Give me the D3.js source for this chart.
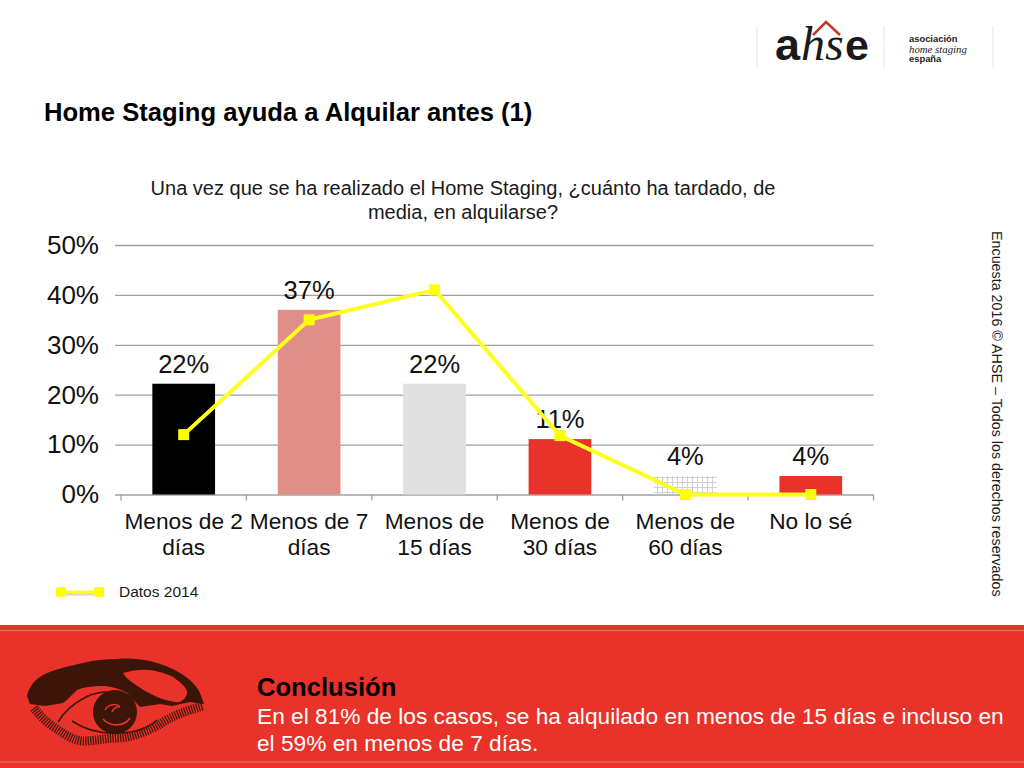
<!DOCTYPE html>
<html>
<head>
<meta charset="utf-8">
<script src="https://cdn.jsdelivr.net/npm/d3@7"></script>
<style>
  html, body { margin: 0; padding: 0; background: #fff; }
  svg { display: block; }
  text { font-family: "Liberation Sans", Arial, sans-serif; }
</style>
</head>
<body>
<svg id="chart" width="1024" height="768"></svg>
<script>
// chart data
const categories = ['Menos de 2|días', 'Menos de 7|días', 'Menos de|15 días', 'Menos de|30 días', 'Menos de|60 días', 'No lo sé'];
const values2016 = [22.2, 37, 22.2, 11.1, 3.7, 3.7];
const values2014 = [12, 35, 41, 11.8, 0, 0];
const barColors = ['#000000', '#e08f88', '#e0e0e0', '#e8322a', 'url(#grid)', '#e8322a'];
const yTicks = [0, 10, 20, 30, 40, 50];

const svg = d3.select('#chart');

// pattern for the 60 dias bar
const pat = svg.append('defs').append('pattern')
  .attr('id', 'grid').attr('width', 5).attr('height', 5)
  .attr('patternUnits', 'userSpaceOnUse');
pat.append('path').attr('d', 'M0 2.5H5M2.5 0V5')
  .attr('stroke', '#cfcfd6').attr('stroke-width', 1).attr('fill', 'none');

////////// titles //////////
svg.append('text').attr('x', 44).attr('y', 121)
  .attr('font-size', 25.6).attr('font-weight', 'bold').attr('fill', '#000')
  .text('Home Staging ayuda a Alquilar antes (1)');

svg.append('text').attr('x', 463).attr('y', 195)
  .attr('text-anchor', 'middle').attr('font-size', 20).attr('fill', '#1a1a1a')
  .text('Una vez que se ha realizado el Home Staging, ¿cuánto ha tardado, de');
svg.append('text').attr('x', 463).attr('y', 219)
  .attr('text-anchor', 'middle').attr('font-size', 20).attr('fill', '#1a1a1a')
  .text('media, en alquilarse?');

////////// scales //////////
const xScale = d3.scaleBand().domain(categories).range([121, 873.5]).paddingInner(0.5).paddingOuter(0.25);
const yScale = d3.scaleLinear().domain([0, 50]).range([494.5, 245]);

// y axis with gridlines
const yAxis = d3.axisLeft(yScale).tickValues(yTicks).tickFormat(d => d + '%')
  .tickSize(-(873.5 - 115)).tickPadding(16);
const yGroup = svg.append('g').attr('transform', 'translate(115,0)').call(yAxis);
yGroup.select('.domain').remove();
yGroup.selectAll('line').attr('stroke', '#a0a0a0').attr('stroke-width', 1.3);
yGroup.selectAll('text').attr('font-size', 26).attr('fill', '#111');

// bars
svg.selectAll('rect.bar').data(categories).enter().append('rect')
  .attr('class', 'bar')
  .attr('x', d => xScale(d))
  .attr('width', xScale.bandwidth())
  .attr('y', (d, i) => yScale(values2016[i]))
  .attr('height', (d, i) => yScale(0) - yScale(values2016[i]))
  .attr('fill', (d, i) => barColors[i]);

// x axis
const step = xScale.step();
const xTicks = d3.range(categories.length + 1).map(i => 121 + i * step);
svg.selectAll('line.xtick').data(xTicks).enter().append('line')
  .attr('class', 'xtick')
  .attr('x1', d => d).attr('x2', d => d)
  .attr('y1', yScale(0)).attr('y2', yScale(0) + 6)
  .attr('stroke', '#a0a0a0').attr('stroke-width', 1.3);

const xLabels = svg.selectAll('text.xlabel').data(categories).enter().append('text')
  .attr('class', 'xlabel')
  .attr('text-anchor', 'middle').attr('font-size', 22.7).attr('fill', '#111');
xLabels.each(function(d) {
  const cx = xScale(d) + xScale.bandwidth() / 2;
  d3.select(this).selectAll('tspan').data(d.split('|')).enter().append('tspan')
    .attr('x', cx).attr('y', (t, j) => 529 + j * 26).text(t => t);
});

// bar value labels
svg.selectAll('text.val').data(categories).enter().append('text')
  .attr('class', 'val')
  .attr('x', d => xScale(d) + xScale.bandwidth() / 2)
  .attr('y', (d, i) => yScale(values2016[i]) - 11)
  .attr('text-anchor', 'middle').attr('font-size', 25.5).attr('fill', '#111')
  .text((d, i) => d3.format('.0f')(values2016[i]) + '%');

// 2014 line
const line = d3.line()
  .x((d, i) => xScale(categories[i]) + xScale.bandwidth() / 2)
  .y(d => yScale(d));
svg.append('path').datum(values2014)
  .attr('d', line).attr('fill', 'none').attr('stroke', '#ffff1f').attr('stroke-width', 4);
svg.selectAll('rect.pt').data(values2014).enter().append('rect')
  .attr('class', 'pt')
  .attr('x', (d, i) => xScale(categories[i]) + xScale.bandwidth() / 2 - 5.5)
  .attr('y', d => yScale(d) - 5.5)
  .attr('width', 11).attr('height', 11).attr('fill', '#ffff00');

////////// legend //////////
const legend = svg.append('g');
legend.append('line').attr('x1', 61).attr('x2', 100).attr('y1', 594).attr('y2', 594)
  .attr('stroke', '#d8d8c0').attr('stroke-width', 3);
legend.append('line').attr('x1', 61).attr('x2', 100).attr('y1', 592).attr('y2', 592)
  .attr('stroke', '#ffff1f').attr('stroke-width', 3);
[61, 99].forEach(x => {
  legend.append('rect').attr('x', x - 5).attr('y', 587).attr('width', 10).attr('height', 10)
    .attr('rx', 2).attr('fill', '#ffff00');
});
legend.append('text').attr('x', 119).attr('y', 597).attr('font-size', 15.5).attr('fill', '#1a1a1a').text('Datos 2014');

// side note
svg.append('text').attr('transform', 'translate(992,231) rotate(90)')
  .attr('font-size', 14.3).attr('fill', '#1a1a1a')
  .text('Encuesta 2016 © AHSE – Todos los derechos reservados');

////////// red footer //////////
svg.append('rect').attr('x', 0).attr('y', 625).attr('width', 1024).attr('height', 143).attr('fill', '#e8322a');
svg.append('line').attr('x1', 0).attr('x2', 1024).attr('y1', 630.5).attr('y2', 630.5).attr('stroke', '#f0706a').attr('stroke-width', 1.2);
svg.append('line').attr('x1', 0).attr('x2', 1024).attr('y1', 762).attr('y2', 762).attr('stroke', '#f0706a').attr('stroke-width', 1.2);

svg.append('text').attr('x', 257).attr('y', 696).attr('font-size', 25.6).attr('font-weight', 'bold').attr('fill', '#000').text('Conclusión');
svg.append('text').attr('x', 257).attr('y', 724).attr('font-size', 22.7).attr('fill', '#fff')
  .text('En el 81% de los casos, se ha alquilado en menos de 15 días e incluso en');
svg.append('text').attr('x', 257).attr('y', 751).attr('font-size', 22.7).attr('fill', '#fff')
  .text('el 59% en menos de 7 días.');

// eye drawing
const eyeDark = '#3a1508';
const eye = svg.append('g').attr('fill', eyeDark);
// brow
eye.append('path').attr('d', 'M27 696 C29 686 36 679 43 675 C58 668 70 666 83 663 C95 660 106 659 117 659 C128 658 140 659 150 661 C162 664 172 668 180 673 C190 679 197 686 200 693 L204 704 L190 702 L172 706 L160 704 L140 707 L127 693 C118 688 110 686 103 686 C92 686 84 687 77 690 C72 695 67 700 63 703 L45 706 L30 704 Z');
// light patch on the brow
eye.append('path').attr('fill', '#e8322a').attr('d', 'M123 673 C132 670 142 669 150 670 C162 672 172 675 177 680 C184 685 188 690 187 694 C185 700 180 703 175 702 C168 701 162 699 157 697 C148 693 140 688 133 683 C129 680 125 677 123 673 Z');
// iris
eye.append('circle').attr('cx', 115).attr('cy', 712).attr('r', 22);
eye.append('path').attr('fill', 'none').attr('stroke', '#e8322a').attr('stroke-width', 1.6)
  .attr('d', 'M105 710 C108 704 117 703 120 707 C118 706 113 708 112 712 M103 719 C110 727 124 727 130 718');
// lids
eye.append('path').attr('fill', 'none').attr('stroke', eyeDark).attr('stroke-width', 1.6)
  .attr('d', 'M58 722 C64 712 72 704 86 697 C92 694 100 692 108 692 M72 721 C84 729 100 734 118 733 C135 733 148 728 157 720');
// lash fringe, hatched with a dash pattern
eye.append('path').attr('fill', 'none').attr('stroke', eyeDark).attr('stroke-width', 9).attr('stroke-dasharray', '1.2 1.3')
  .attr('d', 'M34 708 C40 716 48 724 57 729 C66 736 76 741 84 741 C95 741 105 738 118 738 C135 737 150 730 160 724 C170 717 185 711 203 706');

////////// logo //////////
[757, 884, 993].forEach(x => {
  svg.append('line').attr('x1', x).attr('x2', x).attr('y1', 26).attr('y2', 68).attr('stroke', '#e6e6e6').attr('stroke-width', 1);
});
svg.append('path').attr('d', 'M813 35 L826 22 L840 35').attr('fill', 'none').attr('stroke', '#c0392b').attr('stroke-width', 2.5);
svg.append('text').attr('x', 775).attr('y', 60).attr('font-size', 45).attr('font-weight', 'bold').attr('fill', '#1a1a1a').text('a');
svg.append('text').attr('x', 801).attr('y', 60).attr('font-size', 48).attr('font-style', 'italic').attr('fill', '#1a1a1a')
  .style('font-family', '"Liberation Serif"').text('hs');
svg.append('text').attr('x', 845).attr('y', 60).attr('font-size', 43).attr('font-weight', 'bold').attr('fill', '#1a1a1a').text('e');
svg.append('text').attr('x', 909).attr('y', 42).attr('font-size', 9.4).attr('font-weight', 'bold').attr('fill', '#1a1a1a').text('asociación');
svg.append('text').attr('x', 909).attr('y', 52.5).attr('font-size', 10.8).attr('font-style', 'italic').attr('fill', '#1a1a1a')
  .style('font-family', '"Liberation Serif"').text('home staging');
svg.append('text').attr('x', 909).attr('y', 62).attr('font-size', 9.4).attr('font-weight', 'bold').attr('fill', '#1a1a1a').text('españa');
</script>
</body>
</html>
